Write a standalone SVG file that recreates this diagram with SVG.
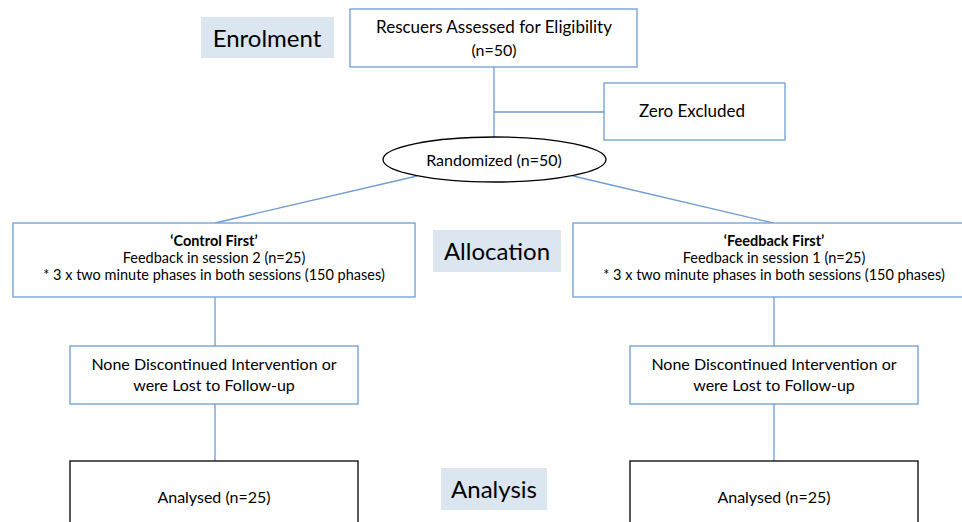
<svg xmlns="http://www.w3.org/2000/svg" width="962" height="522" viewBox="0 0 962 522">
<style>
text{font-family:Lato,"Open Sans","Liberation Sans",sans-serif;fill:#000;text-anchor:middle}
.box{fill:#fff;stroke:#6f9bd4;stroke-width:1.3}
.bbox{fill:#fff;stroke:#000;stroke-width:1.3}
.lbl{fill:#dce6f1;stroke:none}
.conn{stroke:#6f9bd4;stroke-width:1.3;fill:none}
.t17{font-size:17px}
.t16{font-size:16px}
.t14{font-size:14.5px}
.t24{font-size:24px}
</style>
<rect width="962" height="522" fill="#fff"/>
<g id="connectors">
<line class="conn" x1="494" y1="67" x2="494" y2="138"/>
<line class="conn" x1="494" y1="112" x2="604" y2="112"/>
<line class="conn" x1="417" y1="176" x2="215" y2="223"/>
<line class="conn" x1="573" y1="176" x2="773" y2="223"/>
<line class="conn" x1="215" y1="297" x2="215" y2="346"/>
<line class="conn" x1="774" y1="297" x2="774" y2="346"/>
<line class="conn" x1="215" y1="404" x2="215" y2="461"/>
<line class="conn" x1="774" y1="404" x2="774" y2="461"/>
</g>
<g id="label-enrolment">
<rect class="lbl" x="201" y="17" width="133" height="41"/>
<text class="t24" x="267" y="47">Enrolment</text>
</g>
<g id="label-allocation">
<rect class="lbl" x="433" y="230" width="128" height="42"/>
<text class="t24" x="497" y="260">Allocation</text>
</g>
<g id="label-analysis">
<rect class="lbl" x="441" y="468" width="106" height="42"/>
<text class="t24" x="494" y="498">Analysis</text>
</g>
<g id="assessed">
<rect class="box" x="350" y="9" width="287" height="58"/>
<text class="t17" x="494" y="33">Rescuers Assessed for Eligibility</text>
<text class="t16" x="494" y="56">(n=50)</text>
</g>
<g id="excluded">
<rect class="box" x="604" y="83" width="181" height="57"/>
<text class="t17" x="692" y="117">Zero Excluded</text>
</g>
<g id="randomized">
<ellipse cx="494.5" cy="159.5" rx="111.5" ry="22.5" fill="#fff" stroke="#000" stroke-width="1.3"/>
<text class="t16" x="494" y="166">Randomized (n=50)</text>
</g>
<g id="control-first">
<rect class="box" x="13" y="223" width="402" height="74"/>
<text class="t14" x="214" y="246" font-weight="bold">‘Control First’</text>
<text class="t14" x="214" y="263">Feedback in session 2 (n=25)</text>
<text class="t14" x="214" y="280">* 3 x two minute phases in both sessions (150 phases)</text>
</g>
<g id="feedback-first">
<rect class="box" x="573" y="223" width="402" height="74"/>
<text class="t14" x="774" y="246" font-weight="bold">‘Feedback First’</text>
<text class="t14" x="774" y="263">Feedback in session 1 (n=25)</text>
<text class="t14" x="774" y="280">* 3 x two minute phases in both sessions (150 phases)</text>
</g>
<g id="followup-left">
<rect class="box" x="70" y="346" width="288" height="58"/>
<text class="t16" x="214" y="370">None Discontinued Intervention or</text>
<text class="t16" x="214" y="391">were Lost to Follow-up</text>
</g>
<g id="followup-right">
<rect class="box" x="630" y="346" width="288" height="58"/>
<text class="t16" x="774" y="370">None Discontinued Intervention or</text>
<text class="t16" x="774" y="391">were Lost to Follow-up</text>
</g>
<g id="analysed-left">
<rect class="bbox" x="70" y="461" width="288" height="80"/>
<text class="t16" x="214" y="503">Analysed (n=25)</text>
</g>
<g id="analysed-right">
<rect class="bbox" x="630" y="461" width="288" height="80"/>
<text class="t16" x="774" y="503">Analysed (n=25)</text>
</g>
</svg>
